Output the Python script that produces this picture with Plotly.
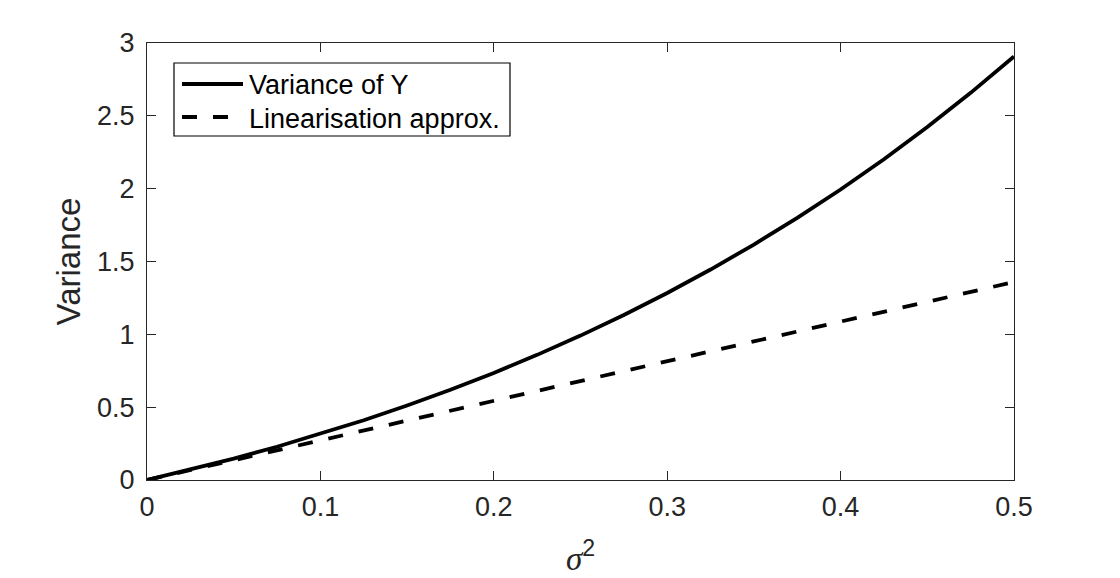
import plotly.graph_objects as go

# sigma^2 values
sigma2 = [0.0, 0.025, 0.05, 0.075, 0.1, 0.125, 0.15, 0.175, 0.2, 0.225, 0.25,
          0.275, 0.3, 0.325, 0.35, 0.375, 0.4, 0.425, 0.45, 0.475, 0.5]
# Variance of Y
var_y = [0.0, 0.0706, 0.1465, 0.2282, 0.3160, 0.4101, 0.5111, 0.6193, 0.7351,
         0.8590, 0.9913, 1.1328, 1.2837, 1.4448, 1.6165, 1.7995, 1.9945, 2.2020,
         2.4228, 2.6577, 2.9074]
# Linearisation approximation
lin_approx = [0.0, 0.0680, 0.1359, 0.2039, 0.2718, 0.3398, 0.4077, 0.4757, 0.5437,
              0.6116, 0.6796, 0.7475, 0.8155, 0.8834, 0.9514, 1.0194, 1.0873,
              1.1553, 1.2232, 1.2912, 1.3591]
series_names = ["Variance of Y", "Linearisation approx."]

x_ticks = [0, 0.1, 0.2, 0.3, 0.4, 0.5]
x_labels = ["0", "0.1", "0.2", "0.3", "0.4", "0.5"]
y_ticks = [0, 0.5, 1, 1.5, 2, 2.5, 3]
y_labels = ["0", "0.5", "1", "1.5", "2", "2.5", "3"]
x_title = "<i>σ</i><sup><span style=\"font-family:'Liberation Sans'\">2</span></sup>"
y_title = "Variance"

FONT = "Liberation Sans, Arial, Helvetica, sans-serif"
SERIF = "Liberation Serif, Times New Roman, serif"
AX = "#262626"
LW = 3.8
DASH = "15px,16px"

fig = go.Figure()
fig.add_trace(go.Scatter(x=sigma2, y=var_y, mode="lines", name=series_names[0],
                         line=dict(color="black", width=LW)))
fig.add_trace(go.Scatter(x=sigma2, y=lin_approx, mode="lines", name=series_names[1],
                         line=dict(color="black", width=LW, dash=DASH)))

axis_common = dict(showline=True, linecolor=AX, linewidth=1.2, mirror="allticks",
                   ticks="inside", ticklen=9, tickcolor=AX, tickwidth=1,
                   showgrid=False, zeroline=False, automargin=False,
                   tickfont=dict(family=FONT, size=27, color=AX))

fig.update_xaxes(range=[0, 0.5], tickvals=x_ticks, ticktext=x_labels,
                 ticklabelstandoff=2, **axis_common)
fig.update_yaxes(range=[0, 3], tickvals=y_ticks, ticktext=y_labels,
                 title=dict(text=y_title, font=dict(family=FONT, size=33, color=AX), standoff=6),
                 ticklabelstandoff=6, **axis_common)

# Legend and x title placed in paper coordinates (plot area 147..1014 x 43..480 px)
def px(xp):
    return (xp - 147) / 867.0

def py(yp):
    return (480 - yp) / 437.0

shapes = [
    dict(type="rect", xref="paper", yref="paper", x0=px(174), x1=px(510), y0=py(136), y1=py(63),
         line=dict(color="black", width=1.2), fillcolor="white", layer="above"),
    dict(type="line", xref="paper", yref="paper", x0=px(182), x1=px(243), y0=py(84), y1=py(84),
         line=dict(color="black", width=LW), layer="above"),
    dict(type="line", xref="paper", yref="paper", x0=px(182), x1=px(243), y0=py(117), y1=py(117),
         line=dict(color="black", width=LW, dash=DASH), layer="above"),
]
annotations = [
    dict(xref="paper", yref="paper", x=px(247), y=py(85), text=series_names[0], showarrow=False,
         xanchor="left", yanchor="middle", font=dict(family=FONT, size=27, color="black")),
    dict(xref="paper", yref="paper", x=px(247), y=py(119), text=series_names[1], showarrow=False,
         xanchor="left", yanchor="middle", font=dict(family=FONT, size=27, color="black")),
    dict(xref="paper", yref="paper", x=px(580), y=py(556), text=x_title, showarrow=False,
         xanchor="center", yanchor="middle", font=dict(family=SERIF, size=33, color=AX)),
]

fig.update_layout(
    width=1120, height=578,
    margin=dict(l=147, r=106, t=43, b=98),
    paper_bgcolor="white", plot_bgcolor="white",
    showlegend=False,
    shapes=shapes, annotations=annotations,
)

fig.write_html("out.html")
